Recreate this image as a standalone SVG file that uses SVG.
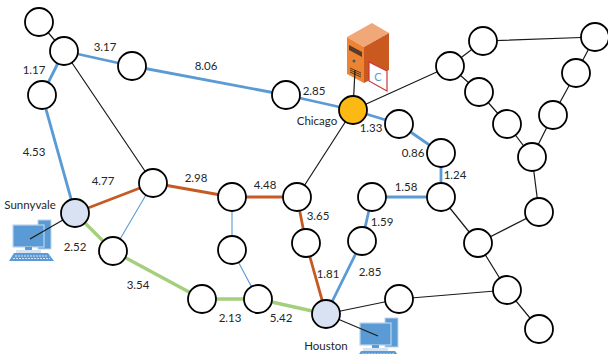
<svg xmlns="http://www.w3.org/2000/svg" width="608" height="354" viewBox="0 0 608 354">
<defs>
<style>
.n{fill:#fff;stroke:#000;stroke-width:1.800}
.s{fill:#d9e2f3;stroke:#000;stroke-width:1.800}
.k{stroke:#1a1a1a;stroke-width:1.200;fill:none}
.b{stroke:#5b9bd5;stroke-width:2.800;fill:none}
.t{stroke:#5b9bd5;stroke-width:1.100;fill:none}
.o{stroke:#c55a23;stroke-width:2.800;fill:none}
.g{stroke:#a4cf7c;stroke-width:3.400;fill:none}
text{font-family:"Lato","Liberation Sans",sans-serif;font-size:11.500px;fill:#262626;text-anchor:middle}
</style>
<g id="pc">
<rect x="28" y="0" width="13" height="29" fill="#5b9bd5" stroke="#bcd4ec" stroke-width="1"/>
<rect x="3" y="5" width="31" height="22" fill="#5b9bd5" stroke="#bcd4ec" stroke-width="1.200"/>
<rect x="15" y="27" width="7" height="4" fill="#5b9bd5"/>
<rect x="6" y="30" width="25" height="3" fill="#d5e3f2"/>
<polygon points="4,33 38,33 44,41 -1,41" fill="#5b9bd5"/>
<path d="M5,36H38M3,38.500H40" stroke="#d5e3f2" stroke-width="1" stroke-dasharray="2 1" fill="none"/>
</g>
</defs>
<rect width="608" height="354" fill="#fff"/>
<g id="icons">
<use href="#pc" x="10" y="220"/>
<use href="#pc" x="357" y="318"/>
<g id="server">
<polygon points="347,37 372,23 389,33 364,47" fill="#f0a878"/>
<polygon points="347,37 364,47 364,83 347,74" fill="#ed8434"/>
<polygon points="364,47 389,33 389,70 364,83" fill="#c9591f"/>
<path d="M349,45 L362,52 V57 L349,50Z" fill="#5a3a2a"/>
<circle cx="354" cy="61" r="1.500" fill="#3f5f5f"/>
<path d="M350,68l11,5M350,70l11,5M350,72l11,5" stroke="#5a3a1a" stroke-width="1"/>
<polygon points="369,62 387,71 387,91 369,81" fill="#fff" stroke="#d1333a" stroke-width="1.200"/>
<text x="378" y="81" style="font-size:11px;fill:#5b9bd5">C</text>
</g>
</g>
<g id="connectors">
<path class="k" d="M39,22L64,51M64,51L153,183M353,110L297,197M353,110L355,70M353,110L450,66M450,66L483,41M483,41L595,37M595,37L576,73M576,73L553,115M553,115L532,157M450,66L479,92M479,92L507,124M507,124L532,157M532,157L539,212M539,212L478,243M441,197L478,243M478,243L507,290M507,290L539,329M507,290L399,299M399,299L326,314M326,314L378,336M75,213L30,239"/>
<path class="b" d="M64,51L42,95M42,95L75,213M64,51L132,66M132,66L286,95M286,95L353,110M353,110L399,124M399,124L441,153M441,153L441,197M441,197L372,197M372,197L362,241M362,241L326,314"/>
<path class="t" d="M153,183L113,251M232,197L232,250M232,250L258,299"/>
<path class="o" d="M75,213L153,183M153,183L232,197M232,197L297,197M297,197L306,243M306,243L326,314"/>
<path class="g" d="M75,213L113,251M113,251L202,299M202,299L258,299M258,299L326,314"/>
</g>
<g id="n1"><circle class="n" cx="39" cy="22" r="14"/></g>
<g id="n2"><circle class="n" cx="64" cy="51" r="14"/></g>
<g id="n3"><circle class="n" cx="132" cy="66" r="14"/></g>
<g id="n4"><circle class="n" cx="42" cy="95" r="14"/></g>
<g id="sunnyvale"><circle class="s" cx="75" cy="213" r="14"/></g>
<g id="n6"><circle class="n" cx="153" cy="183" r="14"/></g>
<g id="n7"><circle class="n" cx="113" cy="251" r="14"/></g>
<g id="n8"><circle class="n" cx="202" cy="299" r="14"/></g>
<g id="n9"><circle class="n" cx="286" cy="95" r="14"/></g>
<g id="chicago"><circle cx="353" cy="110" r="14" fill="#fdb913" stroke="#000" stroke-width="1.800"/></g>
<g id="n11"><circle class="n" cx="399" cy="124" r="14"/></g>
<g id="n12"><circle class="n" cx="232" cy="197" r="14"/></g>
<g id="n13"><circle class="n" cx="297" cy="197" r="14"/></g>
<g id="n14"><circle class="n" cx="306" cy="243" r="14"/></g>
<g id="n15"><circle class="n" cx="232" cy="250" r="14"/></g>
<g id="n16"><circle class="n" cx="258" cy="299" r="14"/></g>
<g id="houston"><circle class="s" cx="326" cy="314" r="14"/></g>
<g id="n18"><circle class="n" cx="372" cy="197" r="14"/></g>
<g id="n19"><circle class="n" cx="362" cy="241" r="14"/></g>
<g id="n20"><circle class="n" cx="399" cy="299" r="14"/></g>
<g id="n21"><circle class="n" cx="483" cy="41" r="14"/></g>
<g id="n22"><circle class="n" cx="595" cy="37" r="14"/></g>
<g id="n23"><circle class="n" cx="450" cy="66" r="14"/></g>
<g id="n24"><circle class="n" cx="479" cy="92" r="14"/></g>
<g id="n25"><circle class="n" cx="507" cy="124" r="14"/></g>
<g id="n26"><circle class="n" cx="532" cy="157" r="14"/></g>
<g id="n27"><circle class="n" cx="553" cy="115" r="14"/></g>
<g id="n28"><circle class="n" cx="576" cy="73" r="14"/></g>
<g id="n29"><circle class="n" cx="441" cy="153" r="14"/></g>
<g id="n30"><circle class="n" cx="441" cy="197" r="14"/></g>
<g id="n31"><circle class="n" cx="539" cy="212" r="14"/></g>
<g id="n32"><circle class="n" cx="478" cy="243" r="14"/></g>
<g id="n33"><circle class="n" cx="507" cy="290" r="14"/></g>
<g id="n34"><circle class="n" cx="539" cy="329" r="14"/></g>
<g id="labels">
<text x="105" y="51">3.17</text>
<text x="34" y="74">1.17</text>
<text x="34" y="156">4.53</text>
<text x="206" y="70">8.06</text>
<text x="314" y="95">2.85</text>
<text x="317" y="125">Chicago</text>
<text x="371" y="132">1.33</text>
<text x="413" y="157">0.86</text>
<text x="455" y="179">1.24</text>
<text x="406" y="191">1.58</text>
<text x="382" y="226">1.59</text>
<text x="370" y="276">2.85</text>
<text x="328" y="278">1.81</text>
<text x="318" y="220">3.65</text>
<text x="265" y="189">4.48</text>
<text x="196" y="182">2.98</text>
<text x="103" y="185">4.77</text>
<text x="30" y="209">Sunnyvale</text>
<text x="75" y="251">2.52</text>
<text x="138" y="289">3.54</text>
<text x="230" y="322">2.13</text>
<text x="281" y="322">5.42</text>
<text x="326" y="350">Houston</text>
</g>
</svg>
